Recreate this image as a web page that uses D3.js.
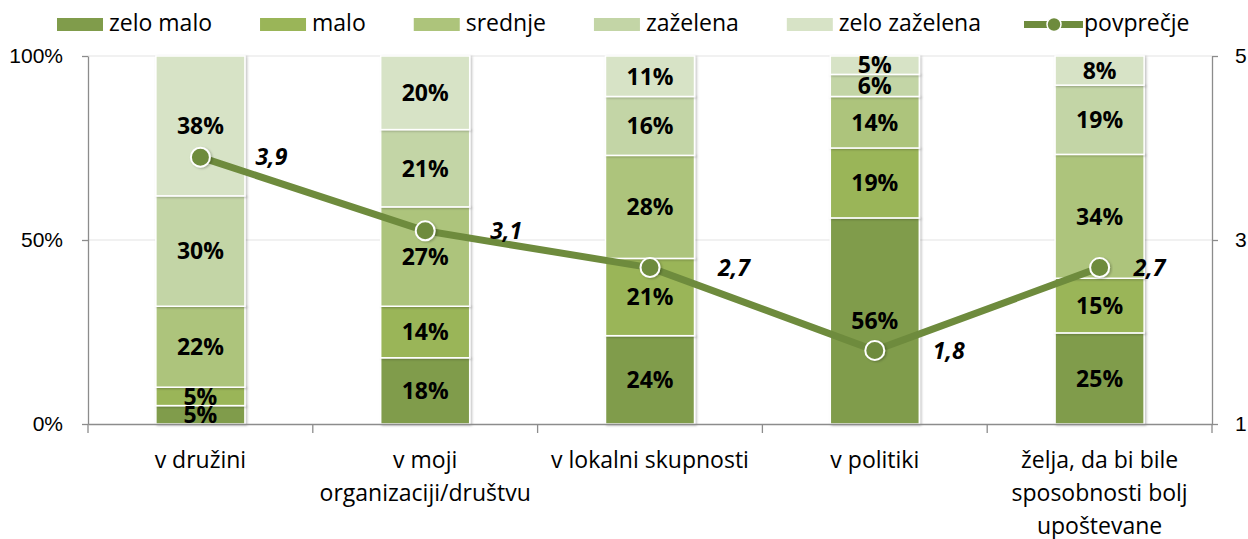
<!DOCTYPE html>
<html lang="sl">
<head>
<meta charset="UTF-8">
<title>Sposobnosti</title>
<style>
  body { margin: 0; background: #fff; }
  svg { display: block; font-family: "Open Sans", sans-serif; }
  .axis path, .axis line { stroke: #8c8c8c; stroke-width: 1.3; }
  .axis text { fill: #000; }
</style>
</head>
<body>
<svg id="chart" width="1248" height="539"></svg>
<script src="https://d3js.org/d3.v7.min.js"></script>
<script>
// categories (\n = line break in axis label)
const categories = ["v družini", "v moji\norganizaciji/društvu", "v lokalni skupnosti", "v politiki", "želja, da bi bile\nsposobnosti bolj\nupoštevane"];
const seriesNames = ["zelo malo", "malo", "srednje", "zaželena", "zelo zaželena"];
const zeloMalo = [5, 18, 24, 56, 25];
const malo = [5, 14, 21, 19, 15];
const srednje = [22, 27, 28, 14, 34];
const zazelena = [30, 21, 16, 6, 19];
const zeloZazelena = [38, 20, 11, 5, 8];
const povprecje = [3.9, 3.1, 2.7, 1.8, 2.7];
const lineName = "povprečje";
const leftTicks = [0, 0.5, 1];
const rightTicks = [1, 3, 5];

const colors = ["#809c4b", "#9ab558", "#adc47b", "#c3d5a6", "#d7e3c6"];
const lineColor = "#6e8b3d";
const labelDx = [71, 81, 84, 74, 50];

const svg = d3.select("#chart");
const margin = { left: 88, right: 1212, top: 56, bottom: 424 };

const seriesValues = [zeloMalo, malo, srednje, zazelena, zeloZazelena];
const table = categories.map((c, i) => {
  const row = { cat: c };
  seriesNames.forEach((s, j) => row[s] = seriesValues[j][i]);
  return row;
});

const x = d3.scaleBand().domain(categories).range([margin.left, margin.right]).padding(0);
const y = d3.scaleLinear().domain([0, 1]).range([margin.bottom, margin.top]);
const y2 = d3.scaleLinear().domain([1, 5]).range([margin.bottom, margin.top]);
const barW = x.step() * 0.396;

// defs: shadow
const defs = svg.append("defs");
const f = defs.append("filter").attr("id", "shadow").attr("x", "-10%").attr("y", "-10%").attr("width", "130%").attr("height", "130%");
f.append("feDropShadow").attr("dx", 1.5).attr("dy", 1).attr("stdDeviation", 1.2).attr("flood-color", "#000").attr("flood-opacity", 0.25);

// gridlines
svg.append("g").selectAll("line").data([0.5, 1]).join("line")
  .attr("x1", margin.left).attr("x2", margin.right)
  .attr("y1", d => y(d)).attr("y2", d => y(d))
  .attr("stroke", "#e4e4e4").attr("stroke-width", 1.2);

// stacked bars
const stack = d3.stack().keys(seriesNames).offset(d3.stackOffsetExpand);
const stacked = stack(table);

const barG = svg.append("g");
stacked.forEach((layer, j) => {
  const g = barG.append("g").attr("fill", colors[j]);
  g.selectAll("rect").data(layer).join("rect")
    .attr("x", d => x(d.data.cat) + (x.step() - barW) / 2)
    .attr("y", d => y(d[1]))
    .attr("width", barW)
    .attr("height", d => y(d[0]) - y(d[1]))
    .attr("stroke", "#fff").attr("stroke-width", 1.5)
    .attr("filter", "url(#shadow)");
});

// segment labels
stacked.forEach((layer, j) => {
  barG.append("g").selectAll("text").data(layer).join("text")
    .attr("x", d => x(d.data.cat) + x.step() / 2)
    .attr("y", d => (y(d[0]) + y(d[1])) / 2)
    .attr("dy", "0.36em")
    .attr("text-anchor", "middle")
    .attr("font-size", 23).attr("font-weight", "bold")
    .text(d => d.data[seriesNames[j]] + "%");
});

// axes
const axL = svg.append("g").attr("class", "axis")
  .attr("transform", `translate(${margin.left},0)`)
  .call(d3.axisLeft(y).tickValues(leftTicks).tickFormat(d3.format(".0%")).tickSize(6).tickSizeOuter(0).tickPadding(19));
axL.selectAll("text").attr("font-size", 21);

const axR = svg.append("g").attr("class", "axis")
  .attr("transform", `translate(${margin.right},0)`)
  .call(d3.axisRight(y2).tickValues(rightTicks).tickFormat(d3.format("d")).tickSize(6).tickSizeOuter(0).tickPadding(17));
axR.selectAll("text").attr("font-size", 21);

const axB = svg.append("g").attr("class", "axis")
  .attr("transform", `translate(0,${margin.bottom})`)
  .call(d3.axisBottom(x).tickSize(0).tickSizeOuter(0).tickFormat(""));
const bounds = categories.map(c => x(c)).concat([margin.right]);
axB.selectAll(".bound").data(bounds).join("line").attr("class", "bound")
  .attr("x1", d => d).attr("x2", d => d).attr("y1", 0).attr("y2", 9);

const labG = svg.append("g").attr("font-size", 23);
categories.forEach(c => {
  const t = labG.append("text").attr("text-anchor", "middle")
    .attr("x", x(c) + x.step() / 2).attr("y", 468);
  c.split("\n").forEach((ln, k) => {
    t.append("tspan").attr("x", x(c) + x.step() / 2).attr("dy", k === 0 ? 0 : 33).text(ln);
  });
});

// line series
const line = d3.line().x((d, i) => x(categories[i]) + x.step() / 2).y(d => y2(d));
svg.append("path").datum(povprecje)
  .attr("d", line).attr("fill", "none")
  .attr("stroke", lineColor).attr("stroke-width", 7).attr("stroke-linejoin", "round");
svg.append("g").selectAll("circle").data(povprecje).join("circle")
  .attr("cx", (d, i) => x(categories[i]) + x.step() / 2)
  .attr("cy", d => y2(d))
  .attr("r", 9.5)
  .attr("fill", lineColor).attr("stroke", "#fff").attr("stroke-width", 2)
  .attr("filter", "url(#shadow)");
svg.append("g").selectAll("text").data(povprecje).join("text")
  .attr("x", (d, i) => x(categories[i]) + x.step() / 2 + labelDx[i])
  .attr("y", d => y2(d))
  .attr("dy", "0.36em").attr("text-anchor", "middle")
  .attr("font-size", 23).attr("font-weight", "bold").attr("font-style", "italic")
  .text(d => String(d).replace(".", ","));

// legend
const leg = svg.append("g").attr("font-size", 23);
let lx = 57;
seriesNames.forEach((s, j) => {
  leg.append("rect").attr("x", lx).attr("y", 18).attr("width", 46).attr("height", 13).attr("fill", colors[j]);
  const t = leg.append("text").attr("x", lx + 52).attr("y", 31).text(s);
  lx += 52 + t.node().getComputedTextLength() + 48;
});
lx -= 5;
leg.append("line").attr("x1", lx).attr("x2", lx + 59).attr("y1", 24.5).attr("y2", 24.5)
  .attr("stroke", lineColor).attr("stroke-width", 7);
leg.append("circle").attr("cx", lx + 30).attr("cy", 24.5).attr("r", 7)
  .attr("fill", lineColor).attr("stroke", "#fff").attr("stroke-width", 1.5);
leg.append("text").attr("x", lx + 60).attr("y", 31).text(lineName);
</script>
</body>
</html>
